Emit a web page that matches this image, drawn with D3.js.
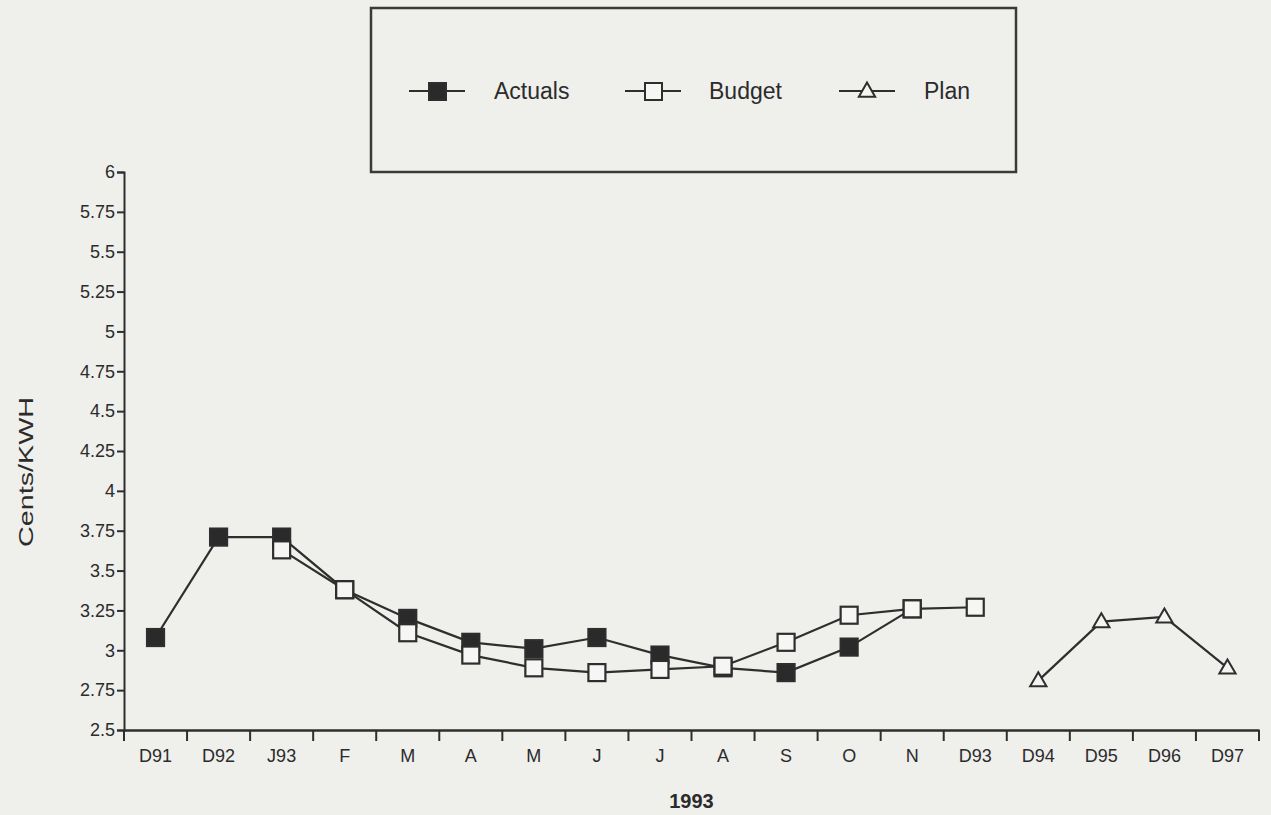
<!DOCTYPE html>
<html>
<head>
<meta charset="utf-8">
<script src="https://cdn.jsdelivr.net/npm/d3@7"></script>
<style>
  html, body { margin: 0; padding: 0; background: #efefec; }
  svg { display: block; }
  text { font-family: "Liberation Sans", Arial, sans-serif; fill: #2b2b2b; }
</style>
</head>
<body>
<svg id="chart" width="1271" height="815"></svg>
<script>
// ---- data ----
const categories = ["D91","D92","J93","F","M","A","M","J","J","A","S","O","N","D93","D94","D95","D96","D97"];
const actuals = [3.08, 3.71, 3.71, 3.38, 3.20, 3.05, 3.01, 3.08, 2.97, 2.89, 2.86, 3.02, 3.26, null, null, null, null, null];
const budget  = [null, null, 3.63, 3.38, 3.11, 2.97, 2.89, 2.86, 2.88, 2.90, 3.05, 3.22, 3.26, 3.27, null, null, null, null];
const plan    = [null, null, null, null, null, null, null, null, null, null, null, null, null, null, 2.81, 3.18, 3.21, 2.89];
const yTicks  = [2.5, 2.75, 3, 3.25, 3.5, 3.75, 4, 4.25, 4.5, 4.75, 5, 5.25, 5.5, 5.75, 6];
const seriesNames = ["Actuals", "Budget", "Plan"];
const yLabel = "Cents/KWH";
const xLabel = "1993";

const ink = "#2e2e2e";
const svg = d3.select("#chart");

const padL = 124, padR = 1259, padT = 172, padB = 730;
const x = d3.scaleBand().domain(d3.range(categories.length)).range([padL, padR]).padding(0);
const y = d3.scaleLinear().domain([2.5, 6]).range([padB, padT]);
const cx = i => x(i) + x.bandwidth() / 2;

// ---- y axis ----
const yAxis = svg.append("g").attr("transform", `translate(${padL},0)`)
  .call(d3.axisLeft(y).tickValues(yTicks).tickSize(7).tickPadding(2).tickFormat(d => String(d)));
yAxis.selectAll("path, line").attr("stroke", ink).attr("stroke-width", 2);
yAxis.selectAll("text").style("font-size", "18px").attr("fill", ink);

// ---- x axis ----
const xAxis = svg.append("g").attr("transform", `translate(0,${padB})`)
  .call(d3.axisBottom(x).tickSize(0).tickPadding(19).tickFormat(i => categories[i]).tickSizeOuter(0));
xAxis.select("path").attr("stroke", ink).attr("stroke-width", 2.5);
xAxis.selectAll("text").style("font-size", "18px").attr("fill", ink);
const bounds = d3.range(categories.length).map(i => x(i)).concat([x.range()[1]]);
svg.append("g").selectAll("line").data(bounds).join("line")
  .attr("x1", d => d).attr("x2", d => d)
  .attr("y1", padB).attr("y2", padB + 11)
  .attr("stroke", ink).attr("stroke-width", 2);

// axis titles
svg.append("text")
  .attr("transform", `translate(33,472) rotate(-90)`)
  .attr("text-anchor", "middle")
  .attr("textLength", 150).attr("lengthAdjust", "spacingAndGlyphs")
  .style("font-size", "21px")
  .text(yLabel);
svg.append("text")
  .attr("x", (padL + padR) / 2).attr("y", 808)
  .attr("text-anchor", "middle")
  .style("font-size", "20px").style("font-weight", "bold")
  .text(xLabel);

// ---- series ----
const line = d3.line().defined(d => d.v != null).x(d => cx(d.i)).y(d => y(d.v));
const toPts = arr => arr.map((v, i) => ({ i, v }));
const sq = 17;
const triPath = d3.symbol().type(d3.symbolTriangle).size(115);

function drawSeries(arr, kind) {
  const pts = toPts(arr);
  svg.append("path").datum(pts).attr("d", line)
    .attr("fill", "none").attr("stroke", ink).attr("stroke-width", 2.2);
  const g = svg.append("g");
  const valid = pts.filter(d => d.v != null);
  if (kind === "tri") {
    g.selectAll("path").data(valid).join("path")
      .attr("d", triPath)
      .attr("transform", d => `translate(${cx(d.i)},${y(d.v) + 1})`)
      .attr("fill", "#f4f4f2").attr("stroke", ink).attr("stroke-width", 2);
  } else {
    g.selectAll("rect").data(valid).join("rect")
      .attr("x", d => cx(d.i) - sq / 2).attr("y", d => y(d.v) - sq / 2)
      .attr("width", sq).attr("height", sq)
      .attr("fill", kind === "filled" ? "#2a2a2a" : "#f6f6f4")
      .attr("stroke", ink).attr("stroke-width", 2.2);
  }
}
drawSeries(actuals, "filled");
drawSeries(budget, "open");
drawSeries(plan, "tri");

// ---- legend ----
const leg = svg.append("g");
leg.append("rect").attr("x", 371).attr("y", 8).attr("width", 645).attr("height", 164)
  .attr("fill", "none").attr("stroke", "#3a3a3a").attr("stroke-width", 2.5);
const legItems = [
  { name: seriesNames[0], kind: "filled", lx: 409, tx: 494 },
  { name: seriesNames[1], kind: "open", lx: 625, tx: 709 },
  { name: seriesNames[2], kind: "tri", lx: 839, tx: 924 }
];
const ly = 91;
legItems.forEach(it => {
  const g = leg.append("g");
  g.append("line").attr("x1", it.lx).attr("x2", it.lx + 56).attr("y1", ly).attr("y2", ly)
    .attr("stroke", ink).attr("stroke-width", 2);
  const mx = it.lx + 28;
  if (it.kind === "tri") {
    g.append("path").attr("d", triPath).attr("transform", `translate(${mx},${ly + 1})`)
      .attr("fill", "#f4f4f2").attr("stroke", ink).attr("stroke-width", 2);
  } else {
    g.append("rect").attr("x", mx - 8).attr("y", ly - 8).attr("width", 17).attr("height", 17)
      .attr("fill", it.kind === "filled" ? "#2a2a2a" : "#f6f6f4")
      .attr("stroke", ink).attr("stroke-width", 2);
  }
  g.append("text").attr("x", it.tx).attr("y", ly + 8).style("font-size", "23px").text(it.name);
});
</script>
</body>
</html>
